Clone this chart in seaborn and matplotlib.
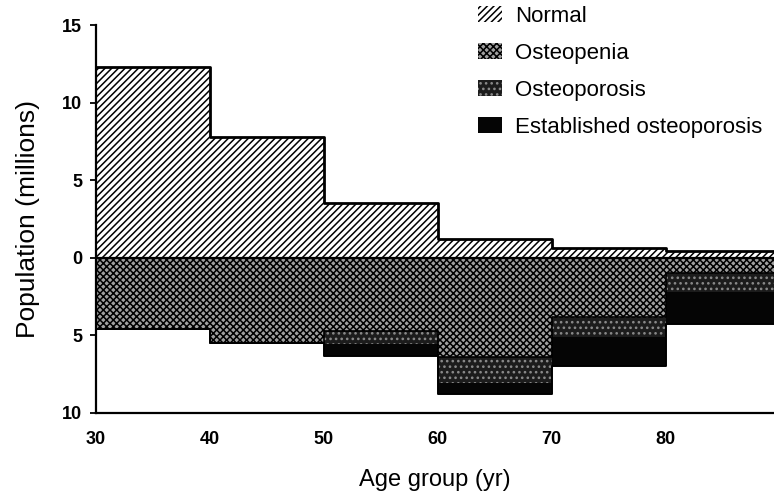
import numpy as np
import pandas as pd
import matplotlib
matplotlib.use("Agg")
import matplotlib.pyplot as plt
import seaborn as sns
from matplotlib.patches import Patch

# age groups (decade edges) and population in millions per group
age_edges = [30, 40, 50, 60, 70, 80, 90]
normal = [12.3, 7.8, 3.5, 1.2, 0.65, 0.45]
osteopenia = [4.6, 5.5, 4.7, 6.4, 3.8, 1.0]
osteoporosis = [0, 0, 0.85, 1.7, 1.3, 1.2]
established = [0, 0, 0.75, 0.7, 1.9, 2.1]

x_ticks = [30, 40, 50, 60, 70, 80]
y_ticks = [15, 10, 5, 0, -5, -10]
y_tick_labels = ["15", "10", "5", "0", "5", "10"]
labels = ["Normal", "Osteopenia", "Osteoporosis", "Established osteoporosis"]

sns.set_theme(style="ticks")
plt.rcParams["font.family"] = ["Liberation Sans", "DejaVu Sans"]
plt.rcParams["hatch.linewidth"] = 1.1
plt.rcParams["text.color"] = "black"
plt.rcParams["axes.labelcolor"] = "black"


def ext(v):
    # repeat last value so the step covers the final decade
    return np.append(np.asarray(v, dtype=float), v[-1])


top = ext(normal)
b1 = -ext(osteopenia)
b2 = b1 - ext(osteoporosis)
b3 = b2 - ext(established)

styles = [
    dict(facecolor="white", hatch="/////", edgecolor="black"),
    dict(facecolor="#a0a0a0", hatch="xxxxx", edgecolor="black"),
    dict(facecolor="#1c1c1c", hatch="...", edgecolor="#8a8a8a"),
    dict(facecolor="#050505", edgecolor="#050505"),
]

fig = plt.figure(figsize=(7.74, 4.91), dpi=100)
ax = fig.add_axes([0.124, 0.159, 0.876, 0.790])

zero = np.zeros(len(age_edges))
ax.fill_between(age_edges, zero, top, step="post", linewidth=0, **styles[0])
ax.fill_between(age_edges, b1, zero, step="post", linewidth=0, **styles[1])
ax.fill_between(age_edges, b2, b1, step="post", linewidth=0, **styles[2])
ax.fill_between(age_edges, b3, b2, step="post", linewidth=0, **styles[3])

# outlines
for yy, lw in [(top, 2.0), (zero, 1.6), (b1, 1.2), (b3, 1.4)]:
    sns.lineplot(x=age_edges, y=yy, drawstyle="steps-post", color="black",
                 linewidth=lw, ax=ax, estimator=None, sort=False)

ax.set_xlim(30, 89.5)
ax.set_ylim(-10, 15)
ax.set_xticks(x_ticks)
ax.set_xticklabels([str(t) for t in x_ticks], fontweight="bold")
ax.set_yticks(y_ticks)
ax.set_yticklabels(y_tick_labels, fontweight="bold")
ax.tick_params(axis="x", length=0, pad=13, labelsize=13, colors="black")
ax.tick_params(axis="y", length=4, width=1.3, pad=6, labelsize=13, colors="black")
sns.despine(ax=ax)
for s in ["left", "bottom"]:
    ax.spines[s].set_linewidth(1.6)
    ax.spines[s].set_color("black")

ax.set_xlabel("Age group (yr)", fontsize=17, labelpad=15, color="black")
ax.set_ylabel("Population (millions)", fontsize=19, labelpad=16, color="black")

handles = [Patch(linewidth=0, **st) for st in styles]
fig.legend(handles, labels, loc="upper left", bbox_to_anchor=(478 / 774, 1 - 6 / 491),
           frameon=False, fontsize=16, handlelength=1.1, handleheight=0.75,
           handletextpad=0.55, labelspacing=0.72, borderpad=0, borderaxespad=0,
           labelcolor="black")

fig.savefig("out.png", dpi=100)
